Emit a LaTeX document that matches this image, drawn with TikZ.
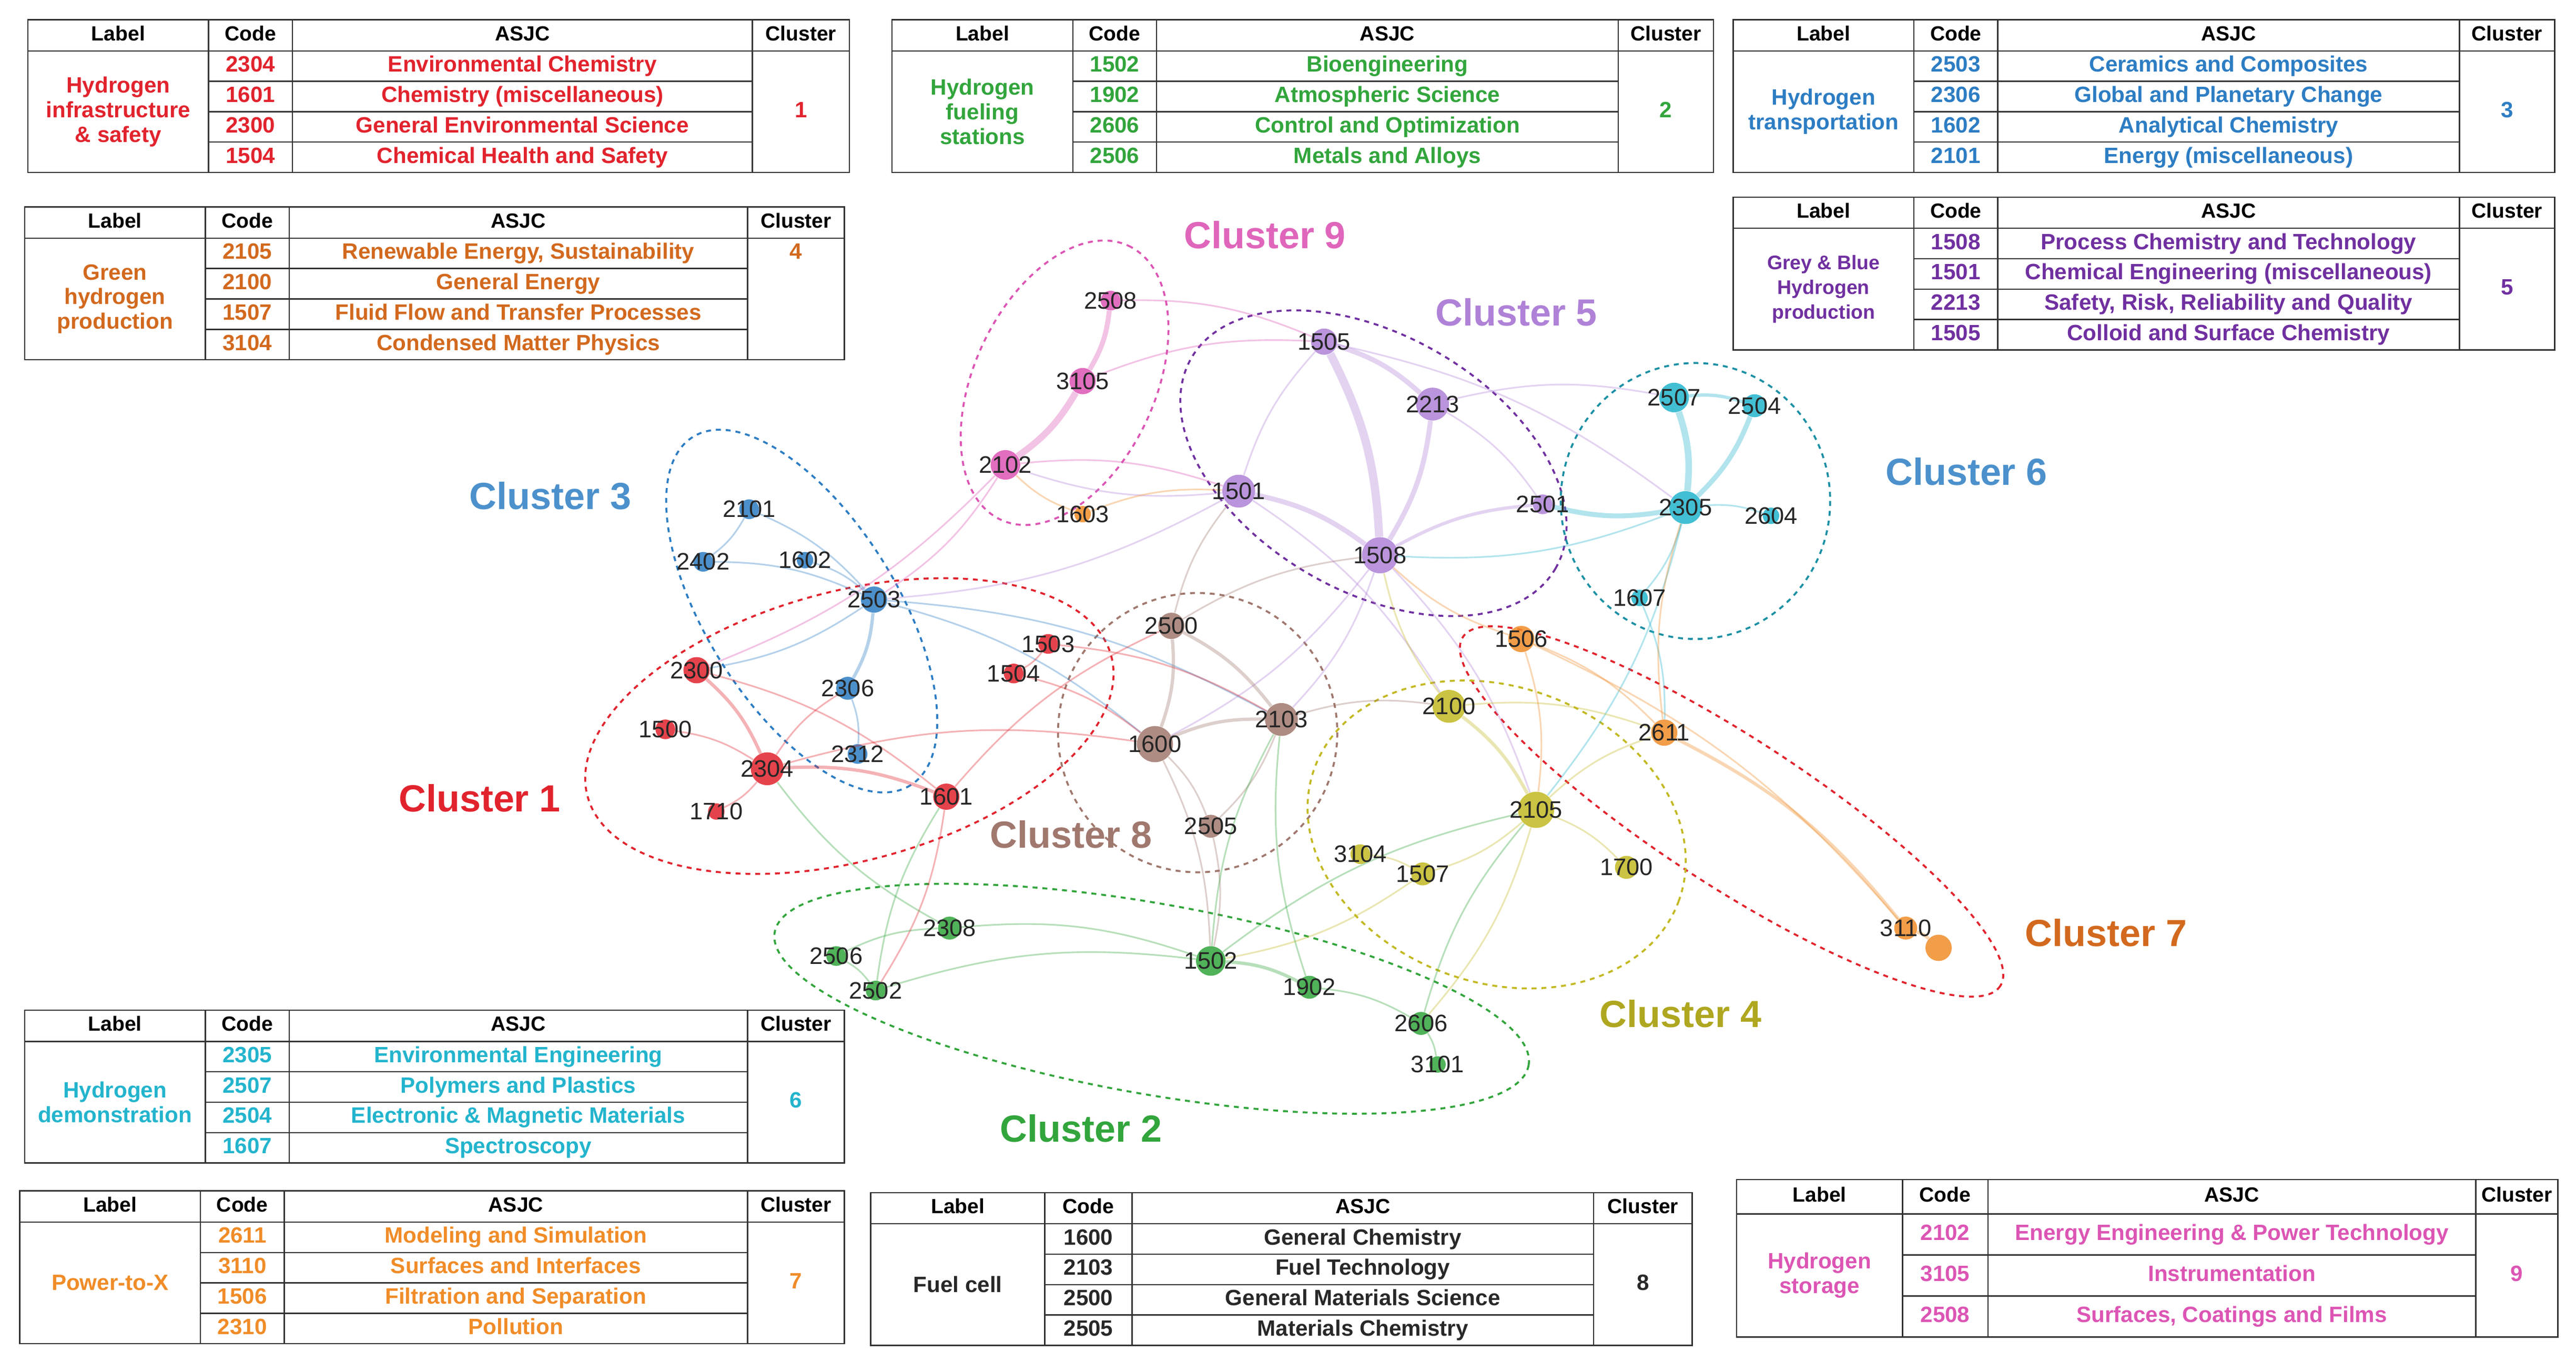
\documentclass[tikz,border=0pt]{standalone}
\usepackage{fontspec}
\setmainfont{Liberation Sans}
\begin{document}
\definecolor{cA}{RGB}{225,35,45}
\definecolor{cB}{RGB}{50,165,60}
\definecolor{cC}{RGB}{45,125,195}
\definecolor{cD}{RGB}{210,105,30}
\definecolor{cDg}{RGB}{195,185,35}
\definecolor{cE}{RGB}{112,48,160}
\definecolor{cEg}{RGB}{175,130,215}
\definecolor{cF}{RGB}{35,180,205}
\definecolor{cG}{RGB}{240,140,40}
\definecolor{cH}{RGB}{40,40,40}
\definecolor{cHg}{RGB}{160,120,110}
\definecolor{cI}{RGB}{220,85,180}
\newcommand\tgrid[9]{%
 \gdef\xA{#1}\gdef\xB{#2}\gdef\xC{#3}\gdef\xD{#4}\gdef\xE{#5}\gdef\yT{#6}\gdef\hH{#7}\gdef\rH{#8}\gdef\nR{#9}%
 \pgfmathsetmacro\yB{#6+#7+#9*#8}%
 \draw[tl] (#1,#6) rectangle (#5,\yB);
 \draw[tl] (#1,#6+#7) -- (#5,#6+#7);
 \foreach \xx in {#2,#3,#4} \draw[tl] (\xx,#6) -- (\xx,\yB);
 \pgfmathtruncatemacro\nm{#9-1}%
 \foreach \i in {1,...,\nm} \draw[tl] (#2,{#6+#7+\i*#8}) -- (#4,{#6+#7+\i*#8});
 \node[hd] at ({(#1+#2)/2},{#6+#7/2}) {Label};
 \node[hd] at ({(#2+#3)/2},{#6+#7/2}) {Code};
 \node[hd] at ({(#3+#4)/2},{#6+#7/2}) {ASJC};
 \node[hd] at ({(#4+#5)/2},{#6+#7/2}) {Cluster};
}
\newcommand\tbody[4]{%
 \pgfmathsetmacro\ymid{\yT+\hH+\nR*\rH/2}%
 \node[tx,text height=,text depth=,text=#1,align=center] at ({(\xA+\xB)/2},\ymid) {#2};
 \node[tx,text=#1] at ({(\xD+\xE)/2},\ymid) {#3};
 \foreach \c/\a [count=\i] in {#4} {
   \node[tx,text=#1] at ({(\xB+\xC)/2},{\yT+\hH+(\i-0.5)*\rH}) {\c};
   \node[tx,text=#1] at ({(\xC+\xD)/2},{\yT+\hH+(\i-0.5)*\rH}) {\a};
 }
}
\begin{tikzpicture}[x=1pt,y=-1pt,
 tl/.style={draw=black!80,line width=0.8pt},
 hd/.style={font=\fontsize{12.5}{13}\selectfont\bfseries,inner sep=0,text height=9pt,text depth=2.5pt},
 tx/.style={font=\fontsize{13.5}{15}\selectfont\bfseries,inner sep=0,text height=9.5pt,text depth=2.5pt},
 cl/.style={font=\fontsize{23}{26}\selectfont\bfseries},
 nd/.style={circle,fill=#1,opacity=0.85,inner sep=0,minimum size=14pt},
 lb/.style={font=\fontsize{14.5}{15}\selectfont,text=black!85,inner sep=0},
 el/.style={draw=#1,dashed,line width=1.2pt},
 e/.style={draw=#1,opacity=0.35,line width=1pt,bend left=12}]
\useasboundingbox (0,0) rectangle (1568,829);
\fill[white] (0,0) rectangle (1568,829);
% ---------------- tables
\tgrid{17}{127}{178}{458}{517}{12}{19}{18.5}{4}
\tbody{cA}{Hydrogen\\infrastructure\\\& safety}{1}{2304/Environmental Chemistry,1601/Chemistry (miscellaneous),2300/General Environmental Science,1504/Chemical Health and Safety}
\tgrid{543}{653}{704}{985}{1043}{12}{19}{18.5}{4}
\tbody{cB}{Hydrogen\\fueling\\stations}{2}{1502/Bioengineering,1902/Atmospheric Science,2606/Control and Optimization,2506/Metals and Alloys}
\tgrid{1055}{1165}{1216}{1497}{1555}{12}{19}{18.5}{4}
\tbody{cC}{Hydrogen\\transportation}{3}{2503/Ceramics and Composites,2306/Global and Planetary Change,1602/Analytical Chemistry,2101/Energy (miscellaneous)}
\tgrid{15}{125}{176}{455}{514}{126}{19}{18.5}{4}
\tbody{cD}{Green\\hydrogen\\production}{}{2105/{Renewable Energy, Sustainability},2100/General Energy,1507/Fluid Flow and Transfer Processes,3104/Condensed Matter Physics}
\node[tx,text=cD] at (484.5,154.25) {4};
\tgrid{1055}{1165}{1216}{1497}{1555}{120}{19}{18.5}{4}
\tbody{cE}{\fontsize{12}{14}\selectfont Grey \& Blue\\\fontsize{12}{14}\selectfont Hydrogen\\\fontsize{12}{14}\selectfont production}{5}{1508/Process Chemistry and Technology,1501/Chemical Engineering (miscellaneous),{2213}/{Safety, Risk, Reliability and Quality},1505/Colloid and Surface Chemistry}
\tgrid{15}{125}{176}{455}{514}{615}{19}{18.5}{4}
\tbody{cF}{Hydrogen\\demonstration}{6}{2305/Environmental Engineering,2507/Polymers and Plastics,2504/Electronic \& Magnetic Materials,1607/Spectroscopy}
\tgrid{12}{122}{173}{455}{514}{725}{19}{18.5}{4}
\tbody{cG}{Power-to-X}{7}{2611/Modeling and Simulation,3110/Surfaces and Interfaces,1506/Filtration and Separation,2310/Pollution}
\tgrid{530}{636}{689}{970}{1030}{726}{19}{18.5}{4}
\tbody{cH}{Fuel cell}{8}{1600/General Chemistry,2103/Fuel Technology,2500/General Materials Science,2505/Materials Chemistry}
\tgrid{1057}{1158}{1210}{1507}{1557}{718}{21}{25}{3}
\tbody{cI}{Hydrogen\\storage}{9}{2102/Energy Engineering \& Power Technology,3105/Instrumentation,2508/{Surfaces, Coatings and Films}}
% ---------------- ellipses
\draw[el=cC] (488,372) ellipse[x radius=125,y radius=58,rotate=-58];
\draw[el=cA] (517,442) ellipse[x radius=165,y radius=82,rotate=15];
\draw[el=cI] (648,233) ellipse[x radius=92,y radius=55,rotate=65];
\draw[el=cE] (836,282) ellipse[x radius=128,y radius=78,rotate=-30];
\draw[el=cF!80!black] (1032,305) ellipse[x radius=82,y radius=84];
\draw[el=cA] (1054,494) ellipse[x radius=195,y radius=45,rotate=-33];
\draw[el=cHg] (729,446) circle[radius=85];
\draw[el=cDg] (911,508) ellipse[x radius=118,y radius=90,rotate=-20];
\draw[el=cB] (701,608) ellipse[x radius=233,y radius=58,rotate=-10];
% ---------------- nodes
\foreach \n/\x/\y/\c/\s in {
 2101/456/310/cC/12,2402/428/342/cC/12,1602/490/341/cC/10,2503/532/365/cC/16,2306/516/419/cC/14,2312/522/459/cC/12,
 2300/424/408/cA/16,1500/405/444/cA/12,2304/467/468/cA/20,1710/436/494/cA/10,1601/576/485/cA/16,1503/638/392/cA/12,1504/617/410/cA/12,
 2508/676/183/cI/12,3105/659/232/cI/16,2102/612/283/cI/18,1603/659/313/cG/10,
 1505/806/208/cEg/16,2213/872/246/cEg/20,1501/754/299/cEg/20,1508/840/338/cEg/22,2501/939/307/cEg/12,
 2507/1019/242/cF/18,2504/1068/247/cF/14,2305/1026/309/cF/20,2604/1078/314/cF/10,1607/998/364/cF/10,
 1506/926/389/cG/16,2611/1013/446/cG/16,3110/1160/565/cG/14,2310/1180/577/cG/16,
 2500/713/381/cHg/16,1600/703/453/cHg/22,2103/780/438/cHg/20,2505/737/503/cHg/14,
 2100/882/430/cDg/20,2105/935/493/cDg/22,3104/828/520/cDg/12,1507/866/532/cDg/14,1700/990/528/cDg/14,
 2308/578/565/cB/14,2506/509/582/cB/12,2502/533/603/cB/12,1502/737/585/cB/18,1902/797/601/cB/14,2606/865/623/cB/14,3101/875/648/cB/10}
 \node[nd=\c,minimum size=\s pt] (n\n) at (\x,\y) {};
% ---------------- edges
\foreach \a/\b/\c/\w in {
 1505/1508/cEg/5,1505/2213/cEg/3,2213/1508/cEg/3,1501/1508/cEg/3,1501/1505/cEg/1,1508/2501/cEg/2,2213/2501/cEg/1,1501/2100/cEg/1,1508/2103/cEg/1,1505/2305/cEg/1,2213/2507/cEg/1,1501/2503/cEg/1,1501/2102/cEg/1,1508/2105/cEg/1,1508/1600/cEg/1,
 2507/2305/cF/4,2504/2305/cF/3,2305/2501/cF/3,2305/2604/cF/1,2305/1607/cF/1,2507/2504/cF/2,2305/2105/cF/1,2305/1508/cF/1,1607/2611/cF/1,
 2508/3105/cI/3,3105/2102/cI/4,2102/1501/cI/1,2102/2503/cI/1,3105/1505/cI/1,2508/1505/cI/1,2102/2300/cI/1,
 2101/2503/cC/1,2402/2503/cC/1,1602/2503/cC/1,2503/2306/cC/2,2306/2312/cC/1,2101/2402/cC/1,2503/2300/cC/1,2503/1600/cC/1,2503/2103/cC/1,
 2300/2304/cA/2,1500/2304/cA/1,2304/1710/cA/1,2304/1601/cA/2,2300/1601/cA/1,1503/1504/cA/1,1504/1600/cA/1,1601/2500/cA/1,2304/2306/cA/1,1601/2502/cA/1,2304/1600/cA/1,1503/2103/cA/1,
 2500/1600/cHg/2,2500/2103/cHg/2,1600/2103/cHg/2,2103/2505/cHg/1,1600/2505/cHg/1,2500/1508/cHg/1,1600/1502/cHg/1,2505/1502/cHg/1,2103/2100/cHg/1,2500/1501/cHg/1,
 2100/2105/cDg/2,2105/1700/cDg/1,2105/1507/cDg/1,3104/1507/cDg/1,2100/2611/cDg/1,2105/2611/cDg/1,2105/2606/cDg/1,2100/1508/cDg/1,1507/1502/cDg/1,
 1506/2611/cG/1,2611/3110/cG/2,3110/2310/cG/2,1506/2105/cG/1,1506/1508/cG/1,1603/1501/cG/1,1603/2102/cG/1,2611/2305/cG/1,1506/3110/cG/1,
 2308/1502/cB/1,2506/2502/cB/1,2502/1502/cB/1,1502/1902/cB/2,1902/2606/cB/1,2606/3101/cB/1,2506/2308/cB/1,1502/2105/cB/1,1502/2103/cB/1,2308/2304/cB/1,2502/1601/cB/1,1902/2103/cB/1,2606/2105/cB/1}
 \draw[e=\c,line width=\w pt] (n\a) to (n\b);
\foreach \n in {2101,2402,1602,2503,2306,2312,2300,1500,2304,1710,1601,1503,1504,2508,3105,2102,1603,1505,2213,1501,1508,2501,2507,2504,2305,2604,1607,1506,2611,3110,2500,1600,2103,2505,2100,2105,3104,1507,1700,2308,2506,2502,1502,1902,2606,3101}
 \node[lb] (l\n) at (n\n) {\n};
% ---------------- cluster labels
\node[cl,text=cI!90] (k9) at (770,143) {Cluster 9};
\node[cl,text=cEg] (k5) at (923,190) {Cluster 5};
\node[cl,text=cC!85] (k3) at (335,302) {Cluster 3};
\node[cl,text=cC!85] (k6) at (1197,287) {Cluster 6};
\node[cl,text=cA] (k1) at (292,486) {Cluster 1};
\node[cl,text=cHg] (k8) at (652,508) {Cluster 8};
\node[cl,text=cD] (k7) at (1282,568) {Cluster 7};
\node[cl,text=cDg!90!black] (k4) at (1023,617) {Cluster 4};
\node[cl,text=cB] (k2) at (658,687) {Cluster 2};
\end{tikzpicture}
\end{document}
